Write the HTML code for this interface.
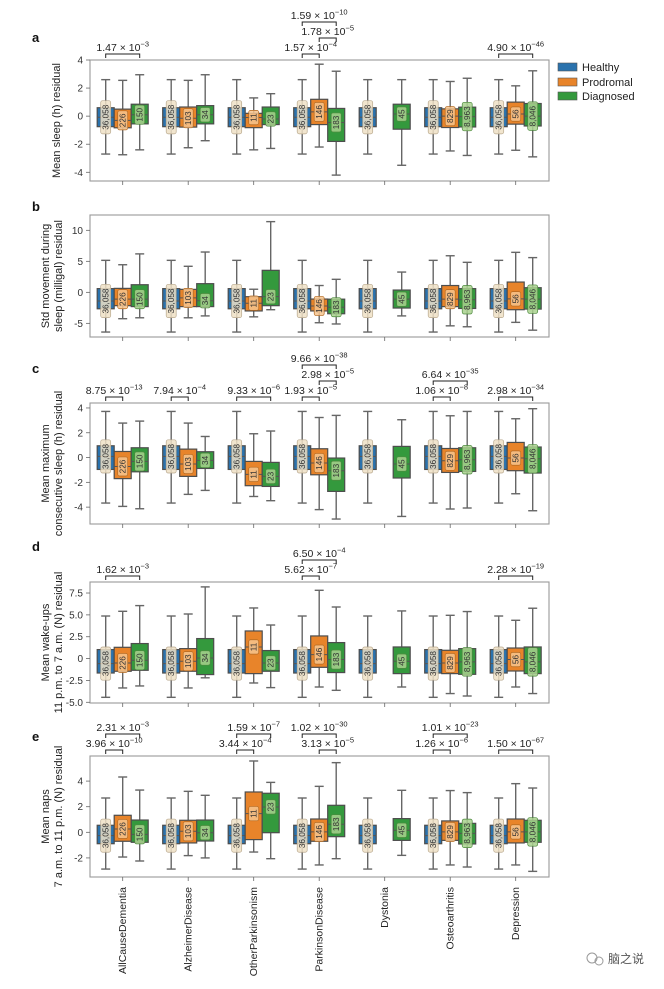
<!DOCTYPE html>
<html><head><meta charset="utf-8"><style>
html,body{margin:0;padding:0;background:#fff;}
svg{display:block;font-family:"Liberation Sans","Noto Sans CJK SC",sans-serif;}
</style></head><body>
<svg id="chart" width="664" height="989" viewBox="0 0 664 989" xmlns="http://www.w3.org/2000/svg">
<rect width="664" height="989" fill="#fff"/>
<g>
<rect x="558" y="63" width="19" height="8" fill="#2a72ad" stroke="#555" stroke-width="0.6"/>
<text x="582" y="71" font-size="11" fill="#222">Healthy</text>
<rect x="558" y="78" width="19" height="8" fill="#e8842a" stroke="#555" stroke-width="0.6"/>
<text x="582" y="86" font-size="11" fill="#222">Prodromal</text>
<rect x="558" y="92" width="19" height="8" fill="#34993d" stroke="#555" stroke-width="0.6"/>
<text x="582" y="100" font-size="11" fill="#222">Diagnosed</text>
</g>
<g>
<circle cx="592" cy="958" r="5" fill="none" stroke="#999" stroke-width="1"/>
<circle cx="599" cy="961" r="4" fill="none" stroke="#999" stroke-width="1"/>
<text x="608" y="963" font-size="12" fill="#555">脑之说</text>
</g>
</svg>
<script>
const groups = ["AllCauseDementia","AlzheimerDisease","OtherParkinsonism","ParkinsonDisease","Dystonia","Osteoarthritis","Depression"];
const prodCounts = ["226","103","11","146",null,"829","56"];
const diagCounts = ["150","34","23","183","45","8,963","8,046"];
const healthyCount = "36,058";

// [whiskerLow, q1, median, q3, whiskerHigh]
const aHealthy = [-2.7,-0.75,-0.08,0.6,2.6];
const aProd = [[-2.75,-0.83,-0.3,0.5,2.55],[-2.25,-0.78,-0.15,0.65,2.55],[-2.4,-0.82,-0.1,0.2,1.3],[-2.2,-0.6,0.3,1.2,3.7],null,[-2.48,-0.81,0,0.52,2.47],[-2.43,-0.57,0.15,1.0,2.16]];
const aDiag = [[-2.4,-0.55,0.1,0.85,2.95],[-1.75,-0.55,0.1,0.75,2.95],[-2.3,-0.6,-0.2,0.65,1.6],[-4.2,-1.8,-0.45,0.55,3.2],[-3.5,-0.93,0.15,0.85,2.6],[-2.8,-0.77,-0.03,0.64,2.7],[-2.9,-0.7,0,0.9,3.23]];

const bHealthy = [-6.4,-2.65,-1.4,0.6,5.16];
const bProd = [[-4.25,-2.15,-1.1,0.64,4.45],[-4.1,-2.3,-0.9,0.48,4.2],[-3.95,-3.0,-1.75,-0.7,0.5],[-4.9,-3.0,-2.2,-1.08,1.1],null,[-5.4,-2.3,-1.1,1.1,5.9],[-4.84,-2.8,-1.05,1.66,6.45]];
const bDiag = [[-4.1,-2.3,-1.1,1.23,6.2],[-3.8,-2.3,-1.35,1.4,6.5],[-2.8,-2.15,-0.7,3.55,11.4],[-5.1,-3.45,-2.4,-1.1,2.1],[-3.8,-2.53,-1.1,0.37,3.27],[-5.55,-2.6,-1.2,0.6,4.84],[-6.1,-2.7,-1.1,0.75,5.6]];

const cHealthy = [-3.67,-0.96,0.09,0.95,3.72];
const cProd = [[-3.94,-1.7,-0.72,0.49,2.78],[-2.97,-1.52,-0.52,0.68,2.78],[-3.14,-2.27,-1.36,-0.31,1.92],[-4.2,-1.39,-0.44,0.71,3.23],null,[-4.15,-1.2,-0.26,0.73,3.37],[-2.92,-1.06,-0.04,1.22,3.13]];
const cDiag = [[-4.13,-1.15,-0.31,0.79,2.94],[-2.65,-0.88,-0.23,0.47,1.7],[-3.48,-2.33,-1.52,-0.39,2.14],[-4.96,-2.73,-1.06,-0.04,3.4],[-4.75,-1.65,-0.52,0.9,3.05],[-4.07,-1.12,-0.18,0.79,3.72],[-4.29,-1.25,-0.1,0.85,3.94]];

const dHealthy = [-4.43,-1.65,-0.57,1.03,4.87];
const dProd = [[-3.36,-1.45,-0.5,1.29,5.41],[-3.36,-1.45,-0.3,1.14,5.1],[-2.79,-1.72,1.33,3.16,5.79],[-3.25,-1.0,0.46,2.59,7.81],null,[-4.0,-1.72,-0.5,0.95,4.95],[-3.25,-1.42,-0.11,1.21,4.38]];
const dDiag = [[-3.13,-1.34,-0.19,1.72,6.06],[-2.2,-1.83,0.07,2.29,8.2],[-3.32,-1.45,-0.5,0.92,3.84],[-3.63,-1.6,-0.11,1.83,5.9],[-3.25,-1.72,-0.3,1.33,5.45],[-4.28,-1.8,-0.38,1.14,5.38],[-4.0,-1.72,-0.38,1.33,5.76]];

const eHealthy = [-2.87,-0.89,-0.26,0.55,2.68];
const eProd = [[-1.93,-0.7,0.26,1.33,4.32],[-1.82,-0.83,0.08,0.94,3.2],[-1.54,-0.57,1.46,3.15,5.57],[-2.55,-0.7,0.03,1.04,3.59],null,[-2.55,-0.63,0.03,0.89,3.26],[-2.55,-0.83,0.03,1.04,3.8]];
const eDiag = [[-2.24,-0.78,-0.16,0.96,3.3],[-2.0,-0.68,-0.03,0.96,2.89],[-2.06,-0.03,1.98,3.05,3.9],[-2.06,-0.34,0.63,2.11,5.44],[-1.8,-0.63,0.16,1.07,3.28],[-2.71,-0.91,-0.08,0.7,3.1],[-3.05,-0.78,0.03,0.94,3.46]];

const aTicks = [4,2,0,-2,-4];
const bTicks = [10,5,0,-5];
const cTicks = [4,2,0,-2,-4];
const dTicks = [7.5,5.0,2.5,0,-2.5,-5.0];
const eTicks = [4,2,0,-2];

// significance: [group, hueFrom, hueTo, level, mantissa, exponent]
const aSig = [[0,0,2,0,"1.47","−3"],[3,0,1,0,"1.57","−4"],[3,1,2,1,"1.78","−5"],[3,0,2,2,"1.59","−10"],[6,0,2,0,"4.90","−46"]];
const bSig = [];
const cSig = [[0,0,1,0,"8.75","−13"],[1,0,1,0,"7.94","−4"],[2,0,2,0,"9.33","−6"],[3,0,1,0,"1.93","−5"],[3,1,2,1,"2.98","−5"],[3,0,2,2,"9.66","−38"],[5,0,1,0,"1.06","−8"],[5,0,2,1,"6.64","−35"],[6,0,2,0,"2.98","−34"]];
const dSig = [[0,0,2,0,"1.62","−3"],[3,0,1,0,"5.62","−7"],[3,0,2,1,"6.50","−4"],[6,0,2,0,"2.28","−19"]];
const eSig = [[0,0,1,0,"3.96","−10"],[0,0,2,1,"2.31","−3"],[2,0,1,0,"3.44","−4"],[2,0,2,1,"1.59","−7"],[3,1,2,0,"3.13","−5"],[3,0,2,1,"1.02","−30"],[5,0,1,0,"1.26","−6"],[5,0,2,1,"1.01","−23"],[6,0,2,0,"1.50","−67"]];

const panels = [
 {id:"a", top:60, bottom:181, ymin:-4.62, ymax:4.0, ticks:aTicks, fmt:v=>String(v).replace("-","-"), H:aHealthy, P:aProd, D:aDiag, sig:aSig, title:["Mean sleep (h) residual"], letterY:42},
 {id:"b", top:215, bottom:337, ymin:-7.2, ymax:12.47, ticks:bTicks, fmt:v=>String(v), H:bHealthy, P:bProd, D:bDiag, sig:bSig, title:["Std movement during","sleep (milligal) residual"], letterY:211},
 {id:"c", top:403, bottom:524, ymin:-5.36, ymax:4.4, ticks:cTicks, fmt:v=>String(v), H:cHealthy, P:cProd, D:cDiag, sig:cSig, title:["Mean maximum","consecutive sleep (h) residual"], letterY:373},
 {id:"d", top:582, bottom:703, ymin:-5.08, ymax:8.76, ticks:dTicks, fmt:v=>v===0?"0":v.toFixed(1), H:dHealthy, P:dProd, D:dDiag, sig:dSig, title:["Mean wake-ups","11 p.m. to 7 a.m. (N) residual"], letterY:551},
 {id:"e", top:756, bottom:877, ymin:-3.49, ymax:5.96, ticks:eTicks, fmt:v=>String(v), H:eHealthy, P:eProd, D:eDiag, sig:eSig, title:["Mean naps","7 a.m. to 11 p.m. (N) residual"], letterY:741}
];

const svg = document.getElementById('chart');
const NS = "http://www.w3.org/2000/svg";
function mk(tag, attrs, parent){const e=document.createElementNS(NS,tag);for(const k in attrs)e.setAttribute(k,attrs[k]);(parent||svg).appendChild(e);return e;}

const X0 = 105.7, GAP = 65.5, HUE = 17, BW = 17;
const axL = 90, axR = 549;
function xPos(g,h){return X0 + GAP*g + HUE*h;}
const fills = ["#2a72ad","#e8842a","#34993d"];
const lblFill = ["#efe0c6","#f6c48e","#a9d18e"];
const lblStroke = ["#b9a98f","#b36a22","#4d8a3e"];
const hueNames = ["healthy","prodromal","diagnosed"];

panels.forEach(p=>{
  const yS = v => p.bottom - (v - p.ymin)/(p.ymax - p.ymin)*(p.bottom - p.top);
  const g = mk('g',{});
  
  
  // letter
  const L = mk('text',{x:32,y:p.letterY,'font-size':13,'font-weight':'bold',fill:'#111'},g);
  L.textContent = p.id;
  
  
  // frame
  const fr = mk('rect',{x:axL,y:p.top,width:axR-axL,height:p.bottom-p.top,fill:'none',stroke:'#999','stroke-width':1.1},g);
  
  
  // y ticks
  p.ticks.forEach(t=>{
    const y = yS(t);
    mk('line',{x1:axL-4,x2:axL,y1:y,y2:y,stroke:'#666','stroke-width':0.8},g);
    const tt = mk('text',{x:axL-7,y:y+3.5,'font-size':10,'text-anchor':'end',fill:'#333'},g);
    tt.textContent = p.fmt(t);
    
    
  });
  // y title
  const cy = (p.top+p.bottom)/2;
  const n = p.title.length;
  p.title.forEach((line,i)=>{
    const x = n===1 ? 60 : 49 + i*13;
    const tt = mk('text',{x:x,y:cy,'font-size':11,'text-anchor':'middle',fill:'#222',transform:`rotate(-90 ${x} ${cy})`},g);
    tt.textContent = line;
    
    
  });
  // x ticks
  groups.forEach((gn,gi)=>{
    const x = xPos(gi,1);
    mk('line',{x1:x,x2:x,y1:p.bottom,y2:p.bottom+4,stroke:'#666','stroke-width':0.8},g);
  });
  // boxes
  groups.forEach((gn,gi)=>{
    [p.H, p.P[gi], p.D[gi]].forEach((s,h)=>{
      if(!s) return;
      const x = xPos(gi,h);
      const bg = mk('g',{},g);
      
      
      const [lo,q1,md,q3,hi] = s;
      mk('line',{x1:x,x2:x,y1:yS(hi),y2:yS(q3),stroke:'#666','stroke-width':1.4},bg);
      mk('line',{x1:x,x2:x,y1:yS(q1),y2:yS(lo),stroke:'#666','stroke-width':1.4},bg);
      mk('line',{x1:x-4.5,x2:x+4.5,y1:yS(hi),y2:yS(hi),stroke:'#666','stroke-width':1.4},bg);
      mk('line',{x1:x-4.5,x2:x+4.5,y1:yS(lo),y2:yS(lo),stroke:'#666','stroke-width':1.4},bg);
      mk('rect',{x:x-BW/2,y:yS(q3),width:BW,height:yS(q1)-yS(q3),fill:fills[h],stroke:'#4d4d4d','stroke-width':1.2},bg);
      mk('line',{x1:x-BW/2,x2:x+BW/2,y1:yS(md),y2:yS(md),stroke:'#555','stroke-width':1},bg);
      const lbl = h===0 ? healthyCount : (h===1 ? prodCounts[gi] : diagCounts[gi]);
      const len = lbl.length*4.7+5;
      const ym = yS(md);
      mk('rect',{x:x-5,y:ym-len/2,width:10,height:len,rx:2,fill:lblFill[h],'fill-opacity':0.85,stroke:lblStroke[h],'stroke-width':0.7},bg);
      const tt = mk('text',{x:x,y:ym,'font-size':8.2,'text-anchor':'middle',fill:'#333',transform:`rotate(-90 ${x} ${ym}) translate(0 3)`},bg);
      tt.textContent = lbl;
      
      
    });
  });
  // significance brackets
  p.sig.forEach(s=>{
    const [gi,h1,h2,lev,man,ex] = s;
    const x1 = xPos(gi,h1), x2 = xPos(gi,h2);
    const y = p.top - 6 - lev*16;
    const sg = mk('g',{},g);
    
    
    mk('path',{d:`M${x1} ${y+4}V${y}H${x2}V${y+4}`,fill:'none',stroke:'#222','stroke-width':1},sg);
    const tt = mk('text',{x:(x1+x2)/2,y:y-3,'font-size':10.5,'text-anchor':'middle',fill:'#222'},sg);
    tt.appendChild(document.createTextNode(man+" × 10"));
    const sup = mk('tspan',{dy:-4.5,'font-size':7.5},tt);
    sup.textContent = ex;
    
    
  });
});

// x category labels
groups.forEach((gn,gi)=>{
  const x = xPos(gi,1)+3.5, y = 887;
  const t = mk('text',{x:x,y:y,'font-size':10.5,'text-anchor':'end',fill:'#222',transform:`rotate(-90 ${x} ${y})`});
  t.textContent = gn;
  
  
});
</script>
</body></html>
